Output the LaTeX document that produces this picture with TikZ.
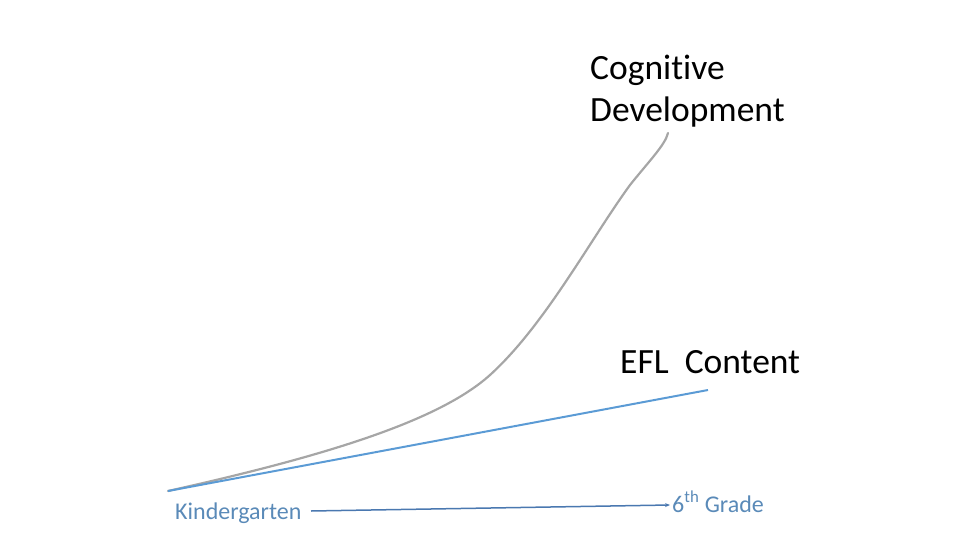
\documentclass[tikz,border=0pt]{standalone}
\usepackage{fontspec}
\setmainfont[Ligatures={NoCommon}]{Carlito}
\usetikzlibrary{arrows.meta}
\definecolor{curvegray}{HTML}{A6A6A6}
\definecolor{linblue}{HTML}{5B9BD5}
\definecolor{axblue}{HTML}{4A78B0}
\definecolor{lblblue}{HTML}{5A8AB8}
\tikzset{
  bigtxt/.style={font=\fontsize{35.5}{42}\selectfont, text=black, align=left, inner sep=0pt},
  smalltxt/.style={font=\fontsize{24}{28}\selectfont, text=lblblue, inner sep=0pt},
}
\begin{document}
\begin{tikzpicture}[x=1pt,y=-1pt]
\useasboundingbox (0,0) rectangle (960,540);
\coordinate (o) at (168,491);
\coordinate (top) at (668,133);
\coordinate (efl) at (708,390);
\node[bigtxt, anchor=base west] (cog) at (590,122) {Cognitive\\Development};
\node[bigtxt, anchor=base west] (eflt) at (620,373) {EFL\ \ Content};
\node[smalltxt, anchor=base west] (kg) at (175,519) {Kindergarten};
\node[smalltxt, anchor=base west] (g6) at (672,512) {6\textsuperscript{th} Grade};
\draw[curvegray, line width=2.2pt, line cap=round]
  (o) .. controls (330,455) and (440,420) .. (490,375)
      .. controls (545,325) and (590,240) .. (630,185)
      .. controls (650,160) and (665,145) .. (top);
\draw[linblue, line width=2pt] (o) -- (efl);
\draw[axblue, line width=1.5pt, -{Stealth[length=5pt,width=4pt]}] (311,511) -- (670,505);
\end{tikzpicture}
\end{document}
